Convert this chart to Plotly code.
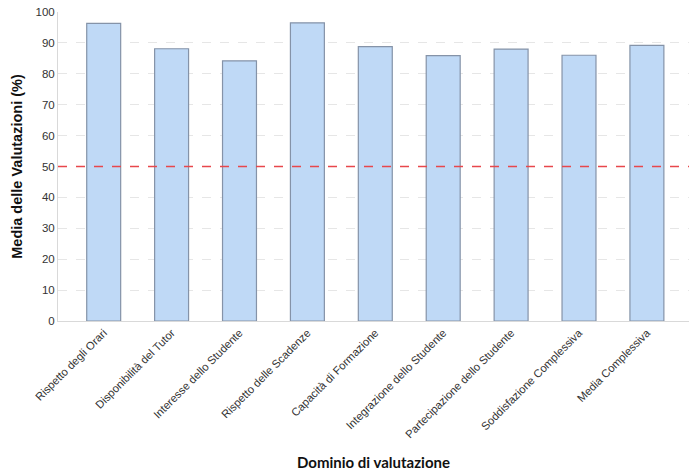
import plotly.graph_objects as go

categories = [
    "Rispetto degli Orari",
    "Disponibilità del Tutor",
    "Interesse dello Studente",
    "Rispetto delle Scadenze",
    "Capacità di Formazione",
    "Integrazione dello Studente",
    "Partecipazione dello Studente",
    "Soddisfazione Complessiva",
    "Media Complessiva",
]
values = [96.3, 88.1, 84.2, 96.5, 88.8, 85.9, 88.0, 86.0, 89.2]
threshold = 50
y_ticks = [0, 10, 20, 30, 40, 50, 60, 70, 80, 90, 100]

fig = go.Figure()
fig.add_trace(go.Bar(
    x=list(range(len(categories))),
    y=values,
    width=0.5,
    marker=dict(color="#bfd9f6", line=dict(color="#8593a8", width=1.2)),
    hoverinfo="y",
))
fig.add_hline(y=threshold, line=dict(color="#e8474c", width=1.5, dash="dash"), layer="above")

fig.update_layout(
    width=689, height=471,
    margin=dict(l=58, r=0, t=12, b=150),
    paper_bgcolor="white", plot_bgcolor="white",
    showlegend=False,
)
fig.update_xaxes(
    tickmode="array",
    tickvals=list(range(len(categories))),
    ticktext=categories,
    tickangle=-45,
    range=[-0.673, 8.62],
    showgrid=False,
    showline=True, linecolor="#d9d9d9", linewidth=1,
    ticks="",
    tickfont=dict(family="Liberation Sans, Arial", size=11.2, color="#333333"),
    title=dict(text="<b>Dominio di valutazione</b>",
               font=dict(family="Lato, Open Sans", size=15, color="#111111"),
               standoff=18),
    automargin=False,
)
fig.update_yaxes(
    range=[0, 100],
    tickmode="array", tickvals=y_ticks,
    showgrid=True, gridcolor="#e6e6e6", griddash="dash", gridwidth=1,
    showline=True, linecolor="#d9d9d9", linewidth=1,
    zeroline=False,
    ticks="",
    tickfont=dict(family="Liberation Sans, Arial", size=11.5, color="#333333"),
    title=dict(text="<b>Media delle Valutazioni (%)</b>",
               font=dict(family="Liberation Sans, Arial", size=14.5, color="#111111"),
               standoff=9),
    automargin=False,
)

fig.write_html(
    "out.html",
    config={"displayModeBar": False},
    post_script="document.body.style.margin='0';document.body.style.overflow='hidden';",
)
